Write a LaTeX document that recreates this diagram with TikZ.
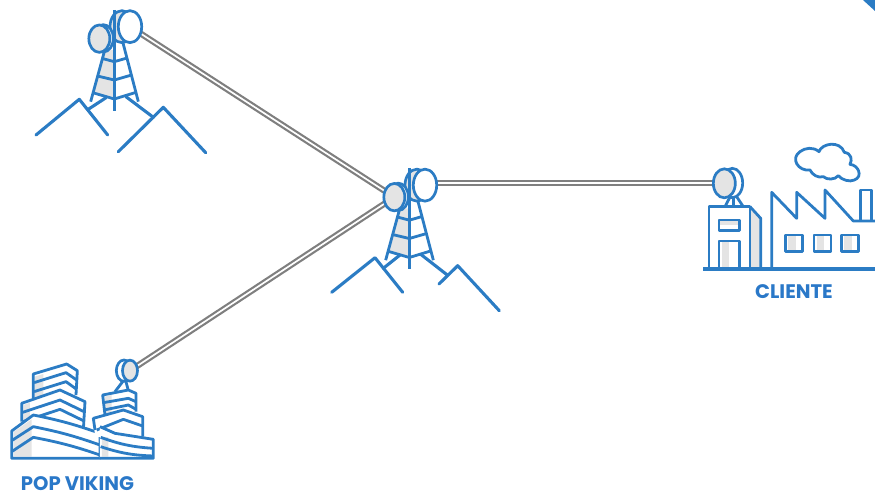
\documentclass[tikz,border=0pt]{standalone}
\usepackage{fontspec}
\setmainfont{Poppins}
\usetikzlibrary{shapes.geometric,backgrounds}
\definecolor{iconblue}{HTML}{2B7CC4}
\definecolor{labelblue}{HTML}{2A78C8}
\definecolor{softgray}{HTML}{E4E4E4}
\definecolor{linkgray}{HTML}{7F7F7F}
\tikzset{
  ico/.style={draw=iconblue,line width=3.1pt,line join=round,line cap=round},
  thin ico/.style={draw=iconblue,line width=2.8pt,line join=round},
  dish/.style={shape=ellipse,draw=iconblue,line width=2.7pt,inner sep=0pt},
  link/.style={draw=linkgray,line width=2.2pt,double=white,double distance=1.7pt,line cap=butt},
  lbl/.style={text=labelblue,font=\bfseries\fontsize{19.6}{22}\selectfont,inner sep=0pt},
  zoomed/.style={x=.33333pt,y=-.33333pt},
  tower/.pic={
    \begin{scope}[xshift=20pt,zoomed]
      \fill[softgray] (250,150) -- (283,150) -- (283,295) -- (222,280) -- cycle;
      \draw[thin ico] (253,155) -- (212,305);
      \draw[thin ico] (308,125) -- (355,305);
      \draw[thin ico] (245,175) -- (283,185) -- (318,175);
      \draw[thin ico] (232,228) -- (283,240) -- (335,225);
      \draw[thin ico] (218,278) -- (283,297) -- (345,278);
      \draw[dish,fill=softgray] (306,80) ellipse [x radius=36,y radius=48];
      \draw[thin ico] (283,30) -- (283,332);
      \draw[dish,fill=white] (250,115) ellipse [x radius=30,y radius=41];
      \node[dish,fill=white,minimum width=23.4pt,minimum height=32pt] (big) at (330,80) {};
      \node[dish,fill=softgray,minimum width=21pt,minimum height=27.4pt] (small) at (238,116) {};
    \end{scope}
  }
}
\begin{document}
\begin{tikzpicture}[x=1pt,y=-1pt]
\useasboundingbox (0,0) rectangle (875,494);
\fill[iconblue] (863,0) -- (875,0) -- (875,11) -- cycle;

% towers
\pic (ta) at (0,0) {tower};
\pic (tb) at (295,158.5) {tower};
\draw[ico] (36,135) -- (79.3,99.3) -- (107.7,135);
\draw[ico] (118.3,151.7) -- (163.3,107.3) -- (205.7,152.7);
\draw[ico] (88.3,109.3) -- (106,97.7);
\draw[ico] (126,96.7) -- (153.3,117.3);
\draw[ico] (331.7,292.3) -- (375,257.7) -- (402.7,292.3);
\draw[ico] (439,284) -- (457.7,265.7) -- (499.3,310.7);
\draw[ico] (383.3,268.3) -- (400,255);
\draw[ico] (420.7,254.3) -- (447.3,275);

% client
\begin{scope}[xshift=695pt,yshift=-135pt,zoomed]
  \fill[softgray] (165,218) -- (197,250) -- (197,402) -- (165,402) -- cycle;
  \fill[softgray] (80,320) rectangle (103,402);
  \fill[softgray] (75,258) rectangle (130,270);
  \draw[thin ico] (42,402) -- (42,215) -- (165,215) -- (165,402);
  \draw[thin ico] (165,215) -- (197,250) -- (197,402);
  \draw[thin ico] (72,255) rectangle (133,287);
  \draw[thin ico] (72,402) -- (72,318) -- (133,318) -- (133,402);
  \draw[thin ico] (108,180) -- (90,215);
  \draw[thin ico] (115,185) -- (115,215);
  \draw[thin ico] (125,185) -- (145,215);
  \draw[dish,fill=white] (112,144) ellipse [x radius=31,y radius=44];
  \node[dish,fill=softgray,minimum width=22pt,minimum height=29pt] (cd) at (88,145) {};
  \draw[thin ico] (230,402) -- (230,172) -- (305,250) -- (305,172) -- (390,250) -- (390,165) -- (475,258) -- (540,258);
  \draw[thin ico] (497,258) -- (497,165) -- (530,165) -- (530,258);
  \foreach \wx in {272,357,440}{
    \fill[softgray] (\wx+8,300) rectangle (\wx+30,350);
    \draw[thin ico] (\wx,300) rectangle (\wx+51,350);
  }
  \draw[ico,line width=2.8pt] (345,105)
     .. controls (310,110) and (285,70) .. (315,50)
     .. controls (330,38) and (355,35) .. (372,50)
     .. controls (380,25) and (435,15) .. (448,52)
     .. controls (470,55) and (472,75) .. (465,88)
     .. controls (490,90) and (505,125) .. (478,135)
     .. controls (465,142) and (440,135) .. (430,122)
     .. controls (420,135) and (395,135) .. (385,125)
     .. controls (370,130) and (352,120) .. cycle;
\end{scope}
\draw[iconblue,line width=3.2pt] (703,269) -- (875,269);

% pop
\begin{scope}[yshift=-350pt,zoomed]
  % tall left block
  \fill[white] (100,72) -- (200,42) -- (232,62) -- (228,150) -- (100,150) -- cycle;
  \fill[softgray] (104,80) -- (130,72) -- (130,150) -- (104,150) -- cycle;
  \draw[thin ico] (100,145) -- (100,72) -- (200,42) -- (232,62) -- (228,135);
  \draw[thin ico] (102,98) -- (198,68) -- (230,90);
  \draw[thin ico] (102,125) -- (198,95) -- (230,118);
  % middle block
  \fill[white] (65,160) -- (180,120) -- (255,155) -- (250,245) -- (65,245) -- cycle;
  \fill[softgray] (70,165) -- (90,158) -- (90,240) -- (70,240) -- cycle;
  \draw[thin ico] (65,215) -- (65,160) -- (180,120) -- (255,155) -- (250,240);
  \draw[thin ico] (65,188) -- (180,150) -- (252,185);
  \draw[thin ico] (68,215) -- (180,178) -- (250,212);
  % large block
  \fill[white] (35,325) -- (35,243) -- (100,195) -- (300,250) -- (300,325) -- cycle;
  \fill[softgray] (42,245) -- (95,208) -- (95,320) -- (42,320) -- cycle;
  \draw[thin ico] (35,325) -- (35,243) -- (100,195) to[bend left=4] (300,250) -- (300,325) -- cycle;
  \draw[thin ico] (35,272) -- (100,230) to[bend left=4] (300,285);
  \draw[thin ico] (35,305) -- (100,262) to[bend left=4] (300,315);
  % right small blocks
  \fill[white] (308,135) -- (385,120) -- (408,130) -- (408,190) -- (315,195) -- cycle;
  \fill[softgray] (314,140) -- (335,135) -- (335,190) -- (318,195) -- cycle;
  \draw[thin ico] (315,195) -- (308,135) -- (385,120) -- (408,130) -- (408,185);
  \draw[thin ico] (310,158) -- (385,145) -- (408,155);
  \draw[thin ico] (312,180) -- (385,165) -- (408,178);
  \fill[white] (280,205) -- (370,180) -- (428,200) -- (428,265) -- (285,260) -- cycle;
  \draw[thin ico] (285,240) -- (280,205) -- (370,180) -- (428,200) -- (428,260);
  \draw[thin ico] (290,240) -- (370,208) -- (428,228);
  \fill[white] (300,230) -- (345,250) -- (460,268) -- (460,325) -- (300,325) -- cycle;
  \fill[softgray] (306,260) -- (325,262) -- (325,320) -- (306,320) -- cycle;
  \draw[thin ico] (300,230) -- (345,250) -- (460,268) -- (460,325) -- (300,325);
  \draw[thin ico] (302,262) to[bend right=8] (460,295);
  \draw[thin ico] (302,290) to[bend right=8] (460,318);
  % dish
  \draw[thin ico] (368,95) -- (345,125);
  \draw[thin ico] (378,95) -- (385,122);
  \draw[dish,fill=white] (372,62) ellipse [x radius=23,y radius=32];
  \node[dish,fill=softgray,minimum width=15pt,minimum height=21pt] (pd) at (390,62) {};
\end{scope}

\begin{pgfonlayer}{background}
  \draw[link] (tabig.center) -- (tbsmall.center);
  \draw[link] (pd.center) -- (tbsmall.center);
  \draw[link] (tbbig.center |- cd.center) -- (cd.center);
\end{pgfonlayer}

\node[lbl] (lc) at (794,291.5) {CLIENTE};
\node[lbl] (lp) at (77.5,484) {POP VIKING};
\end{tikzpicture}
\end{document}
